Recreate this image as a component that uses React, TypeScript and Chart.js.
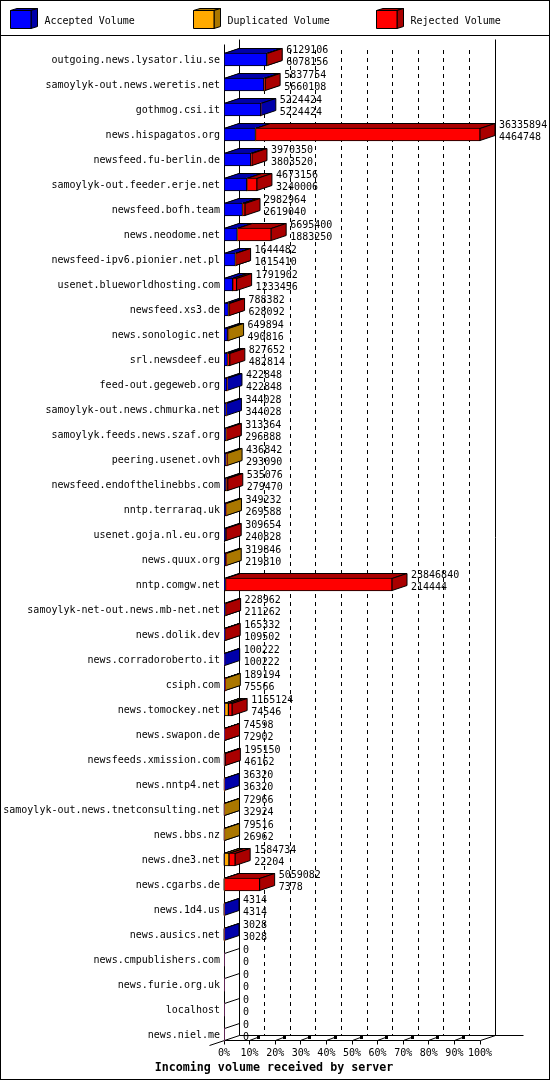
import React, { useEffect, useRef } from "react";
import { Chart, registerables } from "chart.js";

Chart.register(...registerables);

const categories = [
  "outgoing.news.lysator.liu.se", "samoylyk-out.news.weretis.net", "gothmog.csi.it", "news.hispagatos.org",
  "newsfeed.fu-berlin.de", "samoylyk-out.feeder.erje.net", "newsfeed.bofh.team", "news.neodome.net",
  "newsfeed-ipv6.pionier.net.pl", "usenet.blueworldhosting.com", "newsfeed.xs3.de", "news.sonologic.net",
  "srl.newsdeef.eu", "feed-out.gegeweb.org", "samoylyk-out.news.chmurka.net", "samoylyk.feeds.news.szaf.org",
  "peering.usenet.ovh", "newsfeed.endofthelinebbs.com", "nntp.terraraq.uk", "usenet.goja.nl.eu.org",
  "news.quux.org", "nntp.comgw.net", "samoylyk-net-out.news.mb-net.net", "news.dolik.dev",
  "news.corradoroberto.it", "csiph.com", "news.tomockey.net", "news.swapon.de",
  "newsfeeds.xmission.com", "news.nntp4.net", "samoylyk-out.news.tnetconsulting.net", "news.bbs.nz",
  "news.dne3.net", "news.cgarbs.de", "news.1d4.us", "news.ausics.net",
  "news.cmpublishers.com", "news.furie.org.uk", "localhost", "news.niel.me",
];
const accepted = [
  6078156, 5660108, 5224424, 4464748, 3803520, 3240006, 2619040, 1883250, 1615410, 1233456,
  628092, 490816, 482814, 422848, 344028, 296388, 293090, 279470, 269588, 240828,
  219810, 214444, 211262, 109502, 100222, 75566, 74546, 72902, 46162, 36320,
  32924, 26962, 22204, 7378, 4314, 3028, 0, 0, 0, 0,
];
const duplicated = [
  0, 0, 0, 0, 0, 0, 0, 0, 0, 0,
  0, 159078, 0, 0, 0, 0, 143752, 0, 79644, 0,
  100036, 0, 0, 0, 0, 113628, 560000, 0, 0, 0,
  40042, 52554, 680000, 0, 0, 0, 0, 0, 0, 0,
];
const rejected = [
  50950, 177646, 0, 31871146, 166830, 1433150, 363924, 4812150, 29072, 558446,
  160290, 0, 344838, 0, 0, 16976, 0, 255606, 0, 68826,
  0, 23632396, 17700, 55830, 0, 0, 520578, 1696, 148988, 0,
  0, 0, 882530, 5051704, 0, 0, 0, 0, 0, 0,
];
const totals = [
  6129106, 5837754, 5224424, 36335894, 3970350, 4673156, 2982964, 6695400, 1644482, 1791902,
  788382, 649894, 827652, 422848, 344028, 313364, 436842, 535076, 349232, 309654,
  319846, 23846840, 228962, 165332, 100222, 189194, 1155124, 74598, 195150, 36320,
  72966, 79516, 1584734, 5059082, 4314, 3028, 0, 0, 0, 0,
];
const percentTicks = [0, 10, 20, 30, 40, 50, 60, 70, 80, 90, 100];
const seriesNames = ["Accepted Volume", "Duplicated Volume", "Rejected Volume"];
const frontColors = ["#0000ff", "#ffaa00", "#ff0000"];
const shadeColors = ["#0000aa", "#aa7700", "#aa0000"];
const axisTitle = "Incoming volume received by server";

const FONT = '"DejaVu Sans Mono", "Liberation Mono", monospace';
const DX = 15;
const DY = 5;
const scaleMax = Math.max(...totals);

function poly(ctx: CanvasRenderingContext2D, pts: number[][], fill: string) {
  ctx.beginPath();
  pts.forEach((p, i) => (i ? ctx.lineTo(p[0], p[1]) : ctx.moveTo(p[0], p[1])));
  ctx.closePath();
  ctx.fillStyle = fill;
  ctx.fill();
  ctx.stroke();
}

function seg(ctx: CanvasRenderingContext2D, x1: number, y1: number, x2: number, y2: number) {
  ctx.beginPath();
  ctx.moveTo(x1, y1);
  ctx.lineTo(x2, y2);
  ctx.stroke();
}

const cubePlugin = {
  id: "cube",
  beforeDraw(chart: any) {
    const { ctx, width, height } = chart;
    ctx.save();
    ctx.fillStyle = "#fff";
    ctx.fillRect(0, 0, width, height);
    ctx.restore();
  },
  beforeDatasetsDraw(chart: any) {
    const { ctx, chartArea, scales } = chart;
    const x = scales.x;
    const y = scales.y;
    const floorY = y.getPixelForValue(categories.length - 1) + 6;
    const left = chartArea.left + 0.5;
    const right = chartArea.right + 0.5;
    const wallTop = 40.5;
    ctx.save();
    ctx.strokeStyle = "#000";
    ctx.lineWidth = 1;
    seg(ctx, left, wallTop + DY - 1, left, floorY);
    seg(ctx, left + DX, wallTop - 1, left + DX, floorY - DY);
    seg(ctx, right + DX, wallTop - 1, right + DX, floorY - DY);
    seg(ctx, left, floorY, right, floorY);
    seg(ctx, left + DX, floorY - DY, right + DX + 28, floorY - DY);
    seg(ctx, right, floorY, right + DX, floorY - DY);
    seg(ctx, left - DX, floorY + DY, left + DX, floorY - DY);
    categories.forEach((_, i) => {
      const py = y.getPixelForValue(i) - 6;
      seg(ctx, left, py, left + DX, py - DY);
    });
    percentTicks.forEach((p) => {
      const px = Math.floor(x.getPixelForValue((p / 100) * scaleMax)) + 0.5;
      seg(ctx, px, floorY, px, floorY + 4);
      if (p === 0 || p === 100) return;
      seg(ctx, px, floorY, px + 8, floorY - 3);
      ctx.fillStyle = "#000";
      ctx.fillRect(px + 7.5, floorY - 4.5, 3, 3);
      ctx.setLineDash([4, 4]);
      seg(ctx, px + DX, 50, px + DX, floorY - DY);
      ctx.setLineDash([]);
    });
    categories.forEach((_, i) => {
      [0, 1, 2].forEach((d) => {
        const el = chart.getDatasetMeta(d).data[i];
        const v = chart.data.datasets[d].data[i];
        if (!v) return;
        const { x: x2, base: x1, y: cy, height: h } = el.getProps(["x", "base", "y", "height"]);
        const t = cy - h / 2 + 0.5;
        const b = cy + h / 2 - 0.5;
        poly(ctx, [[x1, t], [x2, t], [x2 + DX, t - DY], [x1 + DX, t - DY]], shadeColors[d]);
        poly(ctx, [[x2, t], [x2 + DX, t - DY], [x2 + DX, b - DY], [x2, b]], shadeColors[d]);
      });
    });
    ctx.restore();
  },
  afterDatasetsDraw(chart: any) {
    const { ctx, width, height, scales } = chart;
    const x = scales.x;
    const y = scales.y;
    ctx.save();
    ctx.fillStyle = "#000";
    ctx.font = `10px ${FONT}`;
    ctx.textAlign = "left";
    ctx.textBaseline = "middle";
    categories.forEach((_, i) => {
      const py = y.getPixelForValue(i);
      const tx = x.getPixelForValue(totals[i]) + DX + 4;
      ctx.fillText(String(totals[i]), tx, py - 9);
      ctx.fillText(String(accepted[i]), tx, py + 3);
    });
    ctx.strokeStyle = "#000";
    ctx.lineWidth = 1;
    seriesNames.forEach((name, i) => {
      const bx = 10.5 + i * 183;
      poly(ctx, [[bx, 10.5], [bx + 6.5, 8.5], [bx + 27, 8.5], [bx + 20.5, 10.5]], shadeColors[i]);
      poly(ctx, [[bx + 20.5, 10.5], [bx + 27, 8.5], [bx + 27, 26.5], [bx + 20.5, 28.5]], shadeColors[i]);
      poly(ctx, [[bx, 10.5], [bx + 20.5, 10.5], [bx + 20.5, 28.5], [bx, 28.5]], frontColors[i]);
      ctx.fillStyle = "#000";
      ctx.fillText(name, bx + 34, 21);
    });
    seg(ctx, 0, 35.5, width, 35.5);
    ctx.strokeRect(0.5, 0.5, width - 1, height - 1);
    ctx.font = `bold 11.67px ${FONT}`;
    ctx.textAlign = "center";
    ctx.fillText(axisTitle, 274, 1067.5);
    ctx.restore();
  },
};

export default function App() {
  const ref = useRef<HTMLCanvasElement>(null);
  useEffect(() => {
    document.body.style.margin = "0";
    const series = [accepted, duplicated, rejected];
    const chart = new Chart(ref.current as HTMLCanvasElement, {
      type: "bar",
      plugins: [cubePlugin],
      data: {
        labels: categories,
        datasets: series.map((data, i) => ({
          label: seriesNames[i],
          data,
          backgroundColor: frontColors[i],
          borderColor: "#000",
          borderWidth: (c: any) => (c.raw ? 1 : 0),
          borderSkipped: false,
          barThickness: 13,
        })),
      },
      options: {
        indexAxis: "y",
        responsive: false,
        animation: false,
        events: [],
        layout: { padding: { top: 47, right: 70, bottom: 20, left: 0 } },
        plugins: {
          legend: { display: false },
          tooltip: { enabled: false },
          title: { display: false },
        },
        scales: {
          x: {
            type: "linear",
            stacked: true,
            min: 0,
            max: scaleMax,
            border: { display: false },
            grid: { display: false, drawTicks: false },
            afterBuildTicks: (s: any) => {
              s.ticks = percentTicks.map((p) => ({ value: (p / 100) * scaleMax }));
            },
            afterFit: (s: any) => {
              s.height = 13;
            },
            ticks: {
              autoSkip: false,
              minRotation: 0,
              maxRotation: 0,
              padding: 0,
              color: "#000",
              font: { family: FONT, size: 10 },
              callback: (_v: any, i: number) => `${percentTicks[i]}%`,
            },
          },
          y: {
            type: "category",
            stacked: true,
            offset: true,
            border: { display: false },
            grid: { display: false, drawTicks: false },
            afterFit: (s: any) => {
              s.width = 224;
            },
            ticks: {
              autoSkip: false,
              padding: 4,
              labelOffset: 1,
              color: "#000",
              font: { family: FONT, size: 10 },
            },
          },
        },
      },
    } as any);
    return () => chart.destroy();
  }, []);
  return <canvas ref={ref} width={550} height={1080} style={{ display: "block" }} />;
}
